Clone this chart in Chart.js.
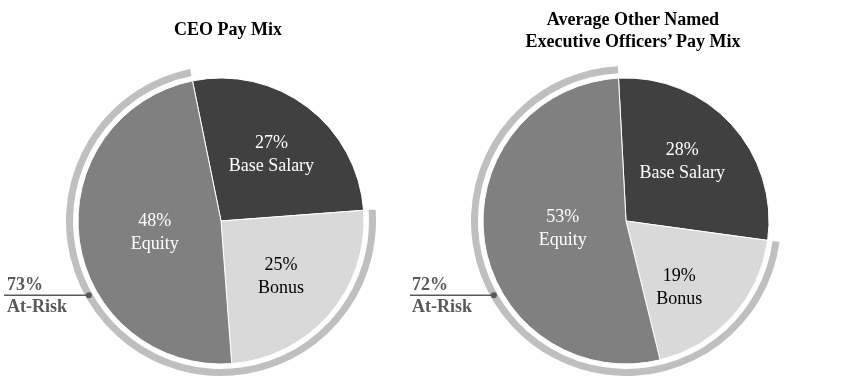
<!DOCTYPE html>
<html><head><meta charset="utf-8">
<script src="https://cdn.jsdelivr.net/npm/chart.js@4/dist/chart.umd.min.js"></script>
<style>
html,body{margin:0;padding:0;background:#fff;}
body{width:845px;height:392px;position:relative;overflow:hidden;font-family:"Liberation Serif","Times New Roman",serif;}
.box{position:absolute;top:0;height:392px;}
.title{position:absolute;font-weight:bold;font-size:18px;line-height:22px;color:#000;text-align:center;white-space:nowrap;}
.risk{position:absolute;font-weight:bold;font-size:18px;line-height:22px;color:#595959;white-space:nowrap;}
</style></head><body>
<div class="box" style="left:0;width:400px"><canvas id="c1"></canvas></div>
<div class="box" style="left:400px;width:445px"><canvas id="c2"></canvas></div>
<div class="title" id="t1" style="left:128px;width:200px;top:18px"></div>
<div class="title" id="t2" style="left:483px;width:300px;top:8px"></div>
<div class="risk" id="r1" style="left:7px;top:273px"></div>
<div class="risk" id="r2" style="left:412px;top:273px"></div>
<script>
// ---- data ----
const categories = ['Base Salary', 'Bonus', 'Equity'];
const ceoValues = [27, 25, 48];
const neoValues = [28, 19, 53];
const ceoTitle = ['CEO Pay Mix'];
const neoTitle = ['Average Other Named', 'Executive Officers\u2019 Pay Mix'];
const atRiskValues = [73, 72];
const atRiskText = 'At-Risk';

// ---- titles / side labels ----
document.getElementById('t1').innerHTML = ceoTitle.join('<br>');
document.getElementById('t2').innerHTML = neoTitle.join('<br>');
document.getElementById('r1').innerHTML = atRiskValues[0] + '%<br>' + atRiskText;
document.getElementById('r2').innerHTML = atRiskValues[1] + '%<br>' + atRiskText;

const sliceColors = ['#404040', '#d9d9d9', '#808080'];
const textColors = ['#ffffff', '#000000', '#ffffff'];

function makePlugin(cfg) {
  return {
    id: 'pieDecor',
    afterDatasetsDraw(chart) {
      const ctx = chart.ctx;
      const meta = chart.getDatasetMeta(2);
      const vals = chart.data.datasets[2].data;
      meta.data.forEach((arc, i) => {
        const p = arc.getProps(['x', 'y', 'startAngle', 'endAngle', 'outerRadius'], true);
        const a = (p.startAngle + p.endAngle) / 2 + cfg.angleShift[i] * Math.PI / 180;
        const r = p.outerRadius * cfg.radius[i];
        const cx = p.x + Math.cos(a) * r, cy = p.y + Math.sin(a) * r;
        ctx.save();
        ctx.font = '18px "Liberation Serif", "Times New Roman", serif';
        ctx.fillStyle = textColors[i];
        ctx.textAlign = 'center';
        ctx.textBaseline = 'middle';
        ctx.fillText(vals[i] + '%', cx, cy - 11.5);
        ctx.fillText(chart.data.labels[i], cx, cy + 11.5);
        ctx.restore();
      });
      const ring = chart.getDatasetMeta(0).data[1];
      const q = ring.getProps(['x', 'y', 'innerRadius', 'outerRadius'], true);
      const ang = (cfg.pointerAngle - 90) * Math.PI / 180;
      const rr = (q.innerRadius + q.outerRadius) / 2;
      const px = q.x + Math.cos(ang) * rr, py = q.y + Math.sin(ang) * rr;
      ctx.save();
      ctx.strokeStyle = '#595959';
      ctx.lineWidth = 1.5;
      ctx.beginPath();
      ctx.moveTo(cfg.lineStart, py);
      ctx.lineTo(px, py);
      ctx.stroke();
      ctx.fillStyle = '#595959';
      ctx.beginPath();
      ctx.arc(px, py, 3, 0, Math.PI * 2);
      ctx.fill();
      ctx.restore();
    }
  };
}

function makeChart(id, values, cfg) {
  return new Chart(document.getElementById(id), {
    type: 'pie',
    data: {
      labels: categories,
      datasets: [
        { data: [values[0], values[1] + values[2]], backgroundColor: ['rgba(0,0,0,0)', '#bfbfbf'],
          borderWidth: 0, hoverBorderWidth: 0, weight: 7 },
        { data: [1], backgroundColor: ['rgba(0,0,0,0)'], borderWidth: 0, hoverBorderWidth: 0, weight: 5 },
        { data: values, backgroundColor: sliceColors, borderColor: '#ffffff',
          borderWidth: 1, hoverBorderWidth: 1, weight: 143 }
      ]
    },
    options: {
      responsive: true,
      maintainAspectRatio: false,
      animation: false,
      events: [],
      rotation: cfg.rotation,
      layout: { padding: cfg.padding },
      plugins: { legend: { display: false }, tooltip: { enabled: false } }
    },
    plugins: [makePlugin(cfg)]
  });
}

makeChart('c1', ceoValues, {
  rotation: -11.5,
  padding: { left: 66, right: 24, top: 66, bottom: 16 },
  radius: [0.584, 0.571, 0.47],
  angleShift: [0, 2, -2],
  pointerAngle: 240.7,
  lineStart: 4
});
makeChart('c2', neoValues, {
  rotation: -3,
  padding: { left: 71, right: 64, top: 66, bottom: 16 },
  radius: [0.573, 0.597, 0.446],
  angleShift: [-4, 9.5, 1],
  pointerAngle: 240.7,
  lineStart: 10
});
</script>
</body></html>
